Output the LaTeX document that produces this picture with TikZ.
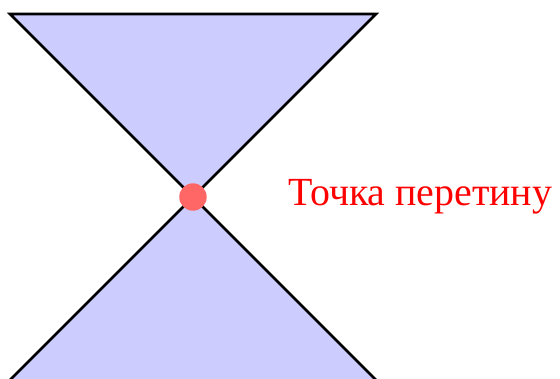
\documentclass[tikz,border=0pt]{standalone}
\usepackage{fontspec}
\usetikzlibrary{positioning}
\newfontfamily\cyrserif{Liberation Serif}
\definecolor{conefill}{HTML}{CCCCFF}
\definecolor{pointred}{HTML}{FF6666}

\begin{document}
\begin{tikzpicture}[x=1cm, y=1cm,
    conepart/.style={fill=conefill, draw=black, thick, line join=miter},
    meetdot/.style={circle, fill=pointred, minimum size=0.3cm, inner sep=0pt},
    meetlabel/.style={text=red, font=\cyrserif\fontsize{12.4}{14}\selectfont, inner sep=0pt}]
  \useasboundingbox (-2.109,-1.978) rectangle (4.011,2.153);

  % Upper and lower nappe (lower one runs past the bottom edge)
  \draw[conepart] (-2,2) -- (2,2) -- (0,0) -- cycle;
  \draw[conepart] (-2.06,-2.06) -- (2.06,-2.06) -- (0,0) -- cycle;

  % Apex
  \node[meetdot] (apex) at (0,0) {};
  \node[meetlabel, anchor=west] (apexlabel) at (1.04,0) {Точка перетину};
\end{tikzpicture}
\end{document}
